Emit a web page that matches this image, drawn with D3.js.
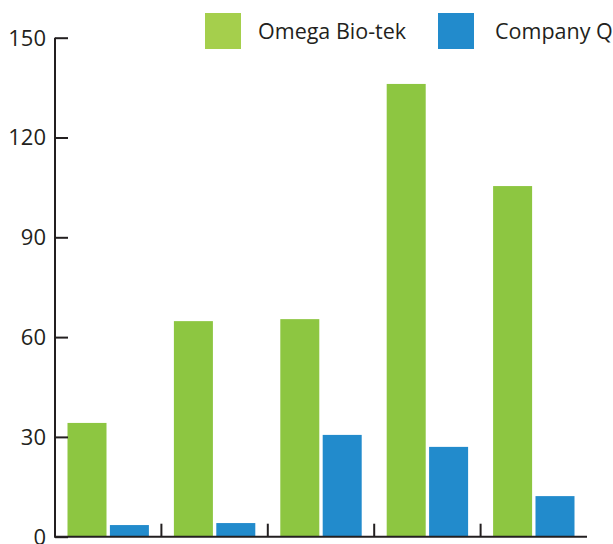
<!DOCTYPE html>
<html><head><meta charset="utf-8">
<script src="https://cdn.jsdelivr.net/npm/d3@7"></script>
<style>body{margin:0;background:#fff;}svg{display:block;}</style>
</head><body>
<svg id="chart" width="613" height="544"></svg>
<script>
const categories = ["A","B","C","D","E"];
const seriesNames = ["Omega Bio-tek","Company Q"];
const omegaValues = [34.2, 64.8, 65.4, 136.1, 105.4];
const companyQValues = [3.5, 4.1, 30.6, 27.0, 12.2];
const yTicks = [0, 30, 60, 90, 120, 150];

const barColors = ["#8DC641", "#228BCC"];
const legendColors = ["#A5CF4C", "#228BCC"];
const axisColor = "#231F20";

const svg = d3.select("#chart");
const mLeft = 55, mRight = 587, mTop = 37.7, mBottom = 536.7;

const x0 = d3.scaleBand().domain(categories).range([mLeft, mRight]).padding(0);
const x1 = d3.scaleBand().domain(seriesNames).range([12.5, x0.bandwidth() - 12.5]).paddingInner(0.08);
const y = d3.scaleLinear().domain([0, 150]).range([mBottom, mTop]);

const data = categories.map((c, i) => ({cat: c, vals: [omegaValues[i], companyQValues[i]]}));

const g = svg.append("g");
g.selectAll("g.cat").data(data).join("g")
  .attr("transform", d => `translate(${x0(d.cat)},0)`)
  .selectAll("rect").data(d => d.vals.map((v, k) => ({k, v})))
  .join("rect")
  .attr("x", d => x1(seriesNames[d.k]))
  .attr("width", x1.bandwidth())
  .attr("y", d => y(d.v))
  .attr("height", d => y(0) - y(d.v))
  .attr("fill", d => barColors[d.k]);

// Y axis
const yAxis = svg.append("g").attr("transform", `translate(${mLeft},0)`)
  .call(d3.axisRight(y).tickValues(yTicks).tickSize(13).tickFormat(""));
yAxis.select(".domain").attr("d", `M0,${mTop}V${mBottom}`).attr("stroke", axisColor).attr("stroke-width", 2);
yAxis.selectAll(".tick line").attr("stroke", axisColor).attr("stroke-width", 2);

svg.append("g").selectAll("text").data(yTicks).join("text")
  .attr("x", 46).attr("y", d => y(d)).attr("dy", "0.36em")
  .attr("text-anchor", "end")
  .attr("font-family", "'Open Sans', sans-serif").attr("font-size", 22)
  .attr("fill", axisColor).text(d => d);

// X axis
const boundaries = categories.slice(1).map(c => x0(c));
const xAxisG = svg.append("g");
xAxisG.append("line").attr("x1", mLeft - 1).attr("x2", mRight).attr("y1", mBottom).attr("y2", mBottom)
  .attr("stroke", axisColor).attr("stroke-width", 2);
xAxisG.selectAll("line.t").data(boundaries).join("line").attr("class", "t")
  .attr("x1", d => d).attr("x2", d => d).attr("y1", mBottom).attr("y2", mBottom - 13)
  .attr("stroke", axisColor).attr("stroke-width", 2);

// Legend
const legendX = [205, 438];
const legendTextDx = [53, 57];
const lg = svg.append("g").selectAll("g").data(seriesNames).join("g")
  .attr("transform", (d, i) => `translate(${legendX[i]},13)`);
lg.append("rect").attr("width", 36).attr("height", 36).attr("fill", (d, i) => legendColors[i]);
lg.append("text").attr("x", (d, i) => legendTextDx[i]).attr("y", 18).attr("dy", "0.36em")
  .attr("font-family", "'Open Sans', sans-serif").attr("font-size", 21.5)
  .attr("fill", axisColor).text(d => d);
</script>
</body></html>
